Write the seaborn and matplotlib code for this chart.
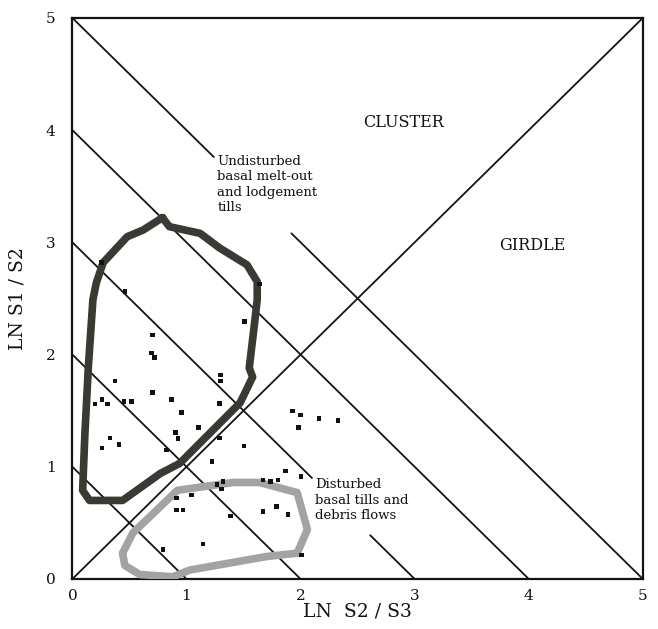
import numpy as np
import pandas as pd
import matplotlib
matplotlib.use('Agg')
import matplotlib.pyplot as plt
import seaborn as sns

# ── DATA ─────────────────────────────────────────────────────────────────────
# fabric shape lines x + y = k, with the x-range of any gap left for a label
SUM_LEVELS = [1, 2, 3, 4, 5]
LINE_GAPS  = {3: (2.10, 2.61), 5: (1.24, 1.92)}

# sample points (LN S2/S3, LN S1/S2)
pts_x = [0.256, 1.642, 0.460, 1.510, 0.702, 0.694, 0.722, 0.372, 1.300, 1.300,
         0.702, 0.197, 0.258, 0.308, 0.451, 0.518, 0.871, 0.956, 1.292, 1.108,
         0.906, 0.926, 1.292, 0.825, 0.328, 0.407, 0.258, 1.504, 1.222, 1.931,
         1.998, 1.983, 2.163, 2.327, 1.870, 2.005, 1.671, 1.736, 1.802, 1.268,
         1.320, 1.306, 1.044, 0.915, 0.915, 0.968, 1.388, 1.671, 1.788, 1.890,
         1.145, 0.795, 2.007]
pts_y = [2.823, 2.629, 2.561, 2.293, 2.175, 2.014, 1.974, 1.765, 1.818, 1.765,
         1.664, 1.560, 1.602, 1.560, 1.580, 1.580, 1.602, 1.482, 1.564, 1.352,
         1.304, 1.252, 1.257, 1.150, 1.257, 1.201, 1.168, 1.185, 1.047, 1.497,
         1.462, 1.349, 1.430, 1.411, 0.963, 0.915, 0.882, 0.867, 0.882, 0.844,
         0.867, 0.802, 0.749, 0.722, 0.615, 0.615, 0.561, 0.600, 0.644, 0.577,
         0.312, 0.263, 0.214]

# envelope: undisturbed basal melt-out and lodgement tills
undist_x = [0.79, 0.85, 1.12, 1.29, 1.53, 1.62, 1.62, 1.60, 1.55, 1.58, 1.47,
            0.94, 0.77, 0.44, 0.15, 0.09, 0.11, 0.14, 0.18, 0.21, 0.27, 0.48,
            0.62, 0.79]
undist_y = [3.22, 3.14, 3.08, 2.95, 2.80, 2.65, 2.49, 2.31, 1.88, 1.80, 1.57,
            1.03, 0.94, 0.70, 0.70, 0.79, 1.30, 1.89, 2.49, 2.64, 2.82, 3.05,
            3.11, 3.22]

# envelope: disturbed basal tills and debris flows
dist_x = [0.44, 0.53, 0.92, 1.41, 1.64, 1.97, 2.06, 1.97, 1.70, 1.03, 0.88,
          0.59, 0.46, 0.44]
dist_y = [0.23, 0.41, 0.79, 0.86, 0.86, 0.77, 0.44, 0.23, 0.20, 0.08, 0.02,
          0.04, 0.12, 0.23]

TICKS = [0, 1, 2, 3, 4, 5]

# ── STYLE ────────────────────────────────────────────────────────────────────
sns.set_style("white")
plt.rcParams['font.family'] = ['DejaVu Serif']
plt.rcParams['text.color'] = '#111111'
plt.rcParams['axes.labelcolor'] = '#111111'
plt.rcParams['xtick.color'] = '#111111'
plt.rcParams['ytick.color'] = '#111111'

fig = plt.figure(figsize=(6.58, 6.29), dpi=100)
ax = fig.add_axes([0.110, 0.0795, 0.867, 0.892])

# diagonal x = y
ax.plot([0, 5], [0, 5], color='#141414', lw=1.3, zorder=1)

# sum lines
for k in SUM_LEVELS:
    if k in LINE_GAPS:
        g0, g1 = LINE_GAPS[k]
        segs = [(0, g0), (g1, k)]
    else:
        segs = [(0, k)]
    for a, b in segs:
        ax.plot([a, b], [k - a, k - b], color='#141414', lw=1.3, zorder=1)

# envelopes
env = pd.DataFrame({'x': undist_x, 'y': undist_y})
sns.lineplot(data=env, x='x', y='y', sort=False, estimator=None, ax=ax,
             color='#3a3a34', lw=5.5, zorder=3, solid_joinstyle='round',
             solid_capstyle='round')
env2 = pd.DataFrame({'x': dist_x, 'y': dist_y})
sns.lineplot(data=env2, x='x', y='y', sort=False, estimator=None, ax=ax,
             color='#a3a3a3', lw=5.5, zorder=3, solid_joinstyle='round',
             solid_capstyle='round')

# sample points
pts = pd.DataFrame({'x': pts_x, 'y': pts_y})
sns.scatterplot(data=pts, x='x', y='y', ax=ax, marker='s', s=11,
                color='#111111', edgecolor='none', zorder=4)

# labels inside the plot
ax.text(2.9, 4.07, 'CLUSTER', fontsize=11.5, ha='center', va='center')
ax.text(4.03, 2.97, 'GIRDLE', fontsize=11.5, ha='center', va='center')
ax.text(1.27, 3.78, 'Undisturbed\nbasal melt-out\nand lodgement\ntills',
        fontsize=9.5, ha='left', va='top', linespacing=1.25)
ax.text(2.13, 0.90, 'Disturbed\nbasal tills and\ndebris flows',
        fontsize=9.5, ha='left', va='top', linespacing=1.25)

ax.set_xlim(0, 5)
ax.set_ylim(0, 5)
ax.set_xticks(TICKS)
ax.set_yticks(TICKS)
ax.set_xticklabels([str(t) for t in TICKS], fontsize=11)
ax.set_yticklabels([str(t) for t in TICKS], fontsize=11)
ax.tick_params(axis='both', length=0)
ax.tick_params(axis='x', pad=7)
ax.tick_params(axis='y', pad=12)
ax.set_xlabel('LN  S2 / S3', fontsize=13.5, labelpad=0)
ax.set_ylabel('LN S1 / S2', fontsize=13.5, labelpad=14)
for sp in ax.spines.values():
    sp.set_visible(True)
    sp.set_color('#141414')
    sp.set_linewidth(1.6)

plt.savefig('out.png', dpi=100)
plt.close()
